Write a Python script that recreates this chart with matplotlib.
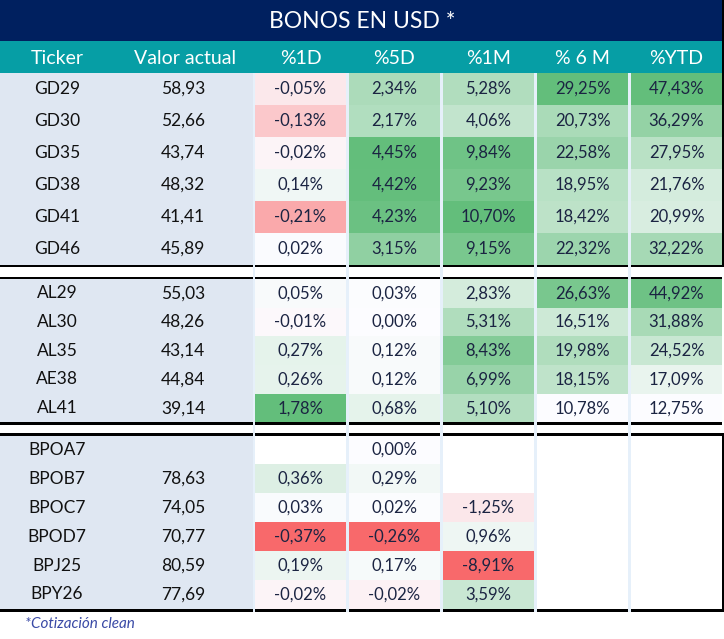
import numpy as np
import matplotlib.pyplot as plt
from matplotlib.patches import Rectangle
from matplotlib.colors import to_rgb

plt.rcParams['font.family'] = ['Lato', 'DejaVu Sans']

TITLE = "BONOS EN USD *"
HEADERS = ["Ticker", "Valor actual", "%1D", "%5D", "%1M", "% 6 M", "%YTD"]
FOOTNOTE = "*Cotización clean"

# three blocks of bonds
tickers = [
    ["GD29", "GD30", "GD35", "GD38", "GD41", "GD46"],
    ["AL29", "AL30", "AL35", "AE38", "AL41"],
    ["BPOA7", "BPOB7", "BPOC7", "BPOD7", "BPJ25", "BPY26"],
]
valor = [
    [58.93, 52.66, 43.74, 48.32, 41.41, 45.89],
    [55.03, 48.26, 43.14, 44.84, 39.14],
    [None, 78.63, 74.05, 70.77, 80.59, 77.69],
]
d1 = [
    [-0.05, -0.13, -0.02, 0.14, -0.21, 0.02],
    [0.05, -0.01, 0.27, 0.26, 1.78],
    [None, 0.36, 0.03, -0.37, 0.19, -0.02],
]
d5 = [
    [2.34, 2.17, 4.45, 4.42, 4.23, 3.15],
    [0.03, 0.00, 0.12, 0.12, 0.68],
    [0.00, 0.29, 0.02, -0.26, 0.17, -0.02],
]
m1 = [
    [5.28, 4.06, 9.84, 9.23, 10.70, 9.15],
    [2.83, 5.31, 8.43, 6.99, 5.10],
    [None, None, -1.25, 0.96, -8.91, 3.59],
]
m6 = [
    [29.25, 20.73, 22.58, 18.95, 18.42, 22.32],
    [26.63, 16.51, 19.98, 18.15, 10.78],
    [None, None, None, None, None, None],
]
ytd = [
    [47.43, 36.29, 27.95, 21.76, 20.99, 32.22],
    [44.92, 31.88, 24.52, 17.09, 12.75],
    [None, None, None, None, None, None],
]
pct_cols = [d1, d5, m1, m6, ytd]

# layout (pixels)
W, H = 724, 639
TITLE_H, HEAD_H = 41, 32
group_top = [73, 279, 435.5]
row_h = [32, 28.7, 28.9]
left_w = 252.5
col_x0, col_w, col_step = 255, 91, 94

NAVY = "#00205f"
TEAL = "#069ea5"
LIGHT = "#dfe7f2"
SEP = "#e6f0fa"
TXT = "#1b2442"
RED, MID, GREEN = np.array(to_rgb("#f8696b")), np.array(to_rgb("#fcfcff")), np.array(to_rgb("#63be7b"))


def scale_color(v, vals):
    lo, hi = min(vals), max(vals)
    mid = 0 if lo < 0 else lo
    if v >= mid:
        t = (v - mid) / (hi - mid) if hi > mid else 0
        return MID + t * (GREEN - MID)
    t = (mid - v) / (mid - lo)
    return MID + t * (RED - MID)


def fmt(v):
    return f"{v:.2f}".replace(".", ",")


fig = plt.figure(figsize=(W / 100, H / 100), dpi=100)
ax = fig.add_axes([0, 0, 1, 1])
ax.set_xlim(0, W)
ax.set_ylim(H, 0)
ax.axis("off")

# title + header
ax.add_patch(Rectangle((0, 0), W, TITLE_H, color=NAVY, lw=0))
ax.text(W / 2, TITLE_H / 2 + 1, TITLE, color="white", fontsize=16.5, ha="center", va="center")
ax.add_patch(Rectangle((0, TITLE_H), W, HEAD_H, color=TEAL, lw=0))
head_x = [57, 185] + [col_x0 + i * col_step + col_w / 2 for i in range(5)]
for x, h in zip(head_x, HEADERS):
    ax.text(x, TITLE_H + HEAD_H / 2 + 1, h, color="white", fontsize=14, ha="center", va="center")

for g in range(3):
    y0 = group_top[g]
    rh = row_h[g]
    n = len(tickers[g])
    ax.add_patch(Rectangle((0, y0), left_w, n * rh, color=LIGHT, lw=0))
    for r in range(n):
        yc = y0 + (r + 0.5) * rh
        ax.text(57, yc, tickers[g][r], color="#111111", fontsize=12.5, ha="center", va="center")
        if valor[g][r] is not None:
            ax.text(183, yc, fmt(valor[g][r]), color="#111111", fontsize=12.5, ha="center", va="center")
        for c, col in enumerate(pct_cols):
            v = col[g][r]
            if v is None:
                continue
            allv = [x for grp in col for x in grp if x is not None]
            x0 = col_x0 + c * col_step
            ax.add_patch(Rectangle((x0, y0 + r * rh), col_w, rh, color=scale_color(v, allv), lw=0))
            ax.text(x0 + col_w / 2, yc, fmt(v) + "%", color=TXT, fontsize=12, ha="center", va="center")

# black block borders
for yl in [264.5, 276.5, 422, 433, 609]:
    ax.add_patch(Rectangle((0, yl), W - 2, 2.5, color="black", lw=0))
ax.add_patch(Rectangle((W - 2, 0), 2, 267, color="black", lw=0))
ax.add_patch(Rectangle((W - 2, 433), 2, 178.5, color="black", lw=0))

# light column separators
for sx in [left_w] + [col_x0 + i * col_step + col_w for i in range(4)]:
    ax.add_patch(Rectangle((sx, group_top[0]), col_x0 - left_w if sx == left_w else col_step - col_w,
                           609 + 2.5 - group_top[0], color=SEP, lw=0))

ax.text(25, 624, FOOTNOTE, color="#3a4aa6", fontsize=11, style="italic", ha="left", va="center")

fig.savefig("out.png", dpi=100)
plt.close(fig)
